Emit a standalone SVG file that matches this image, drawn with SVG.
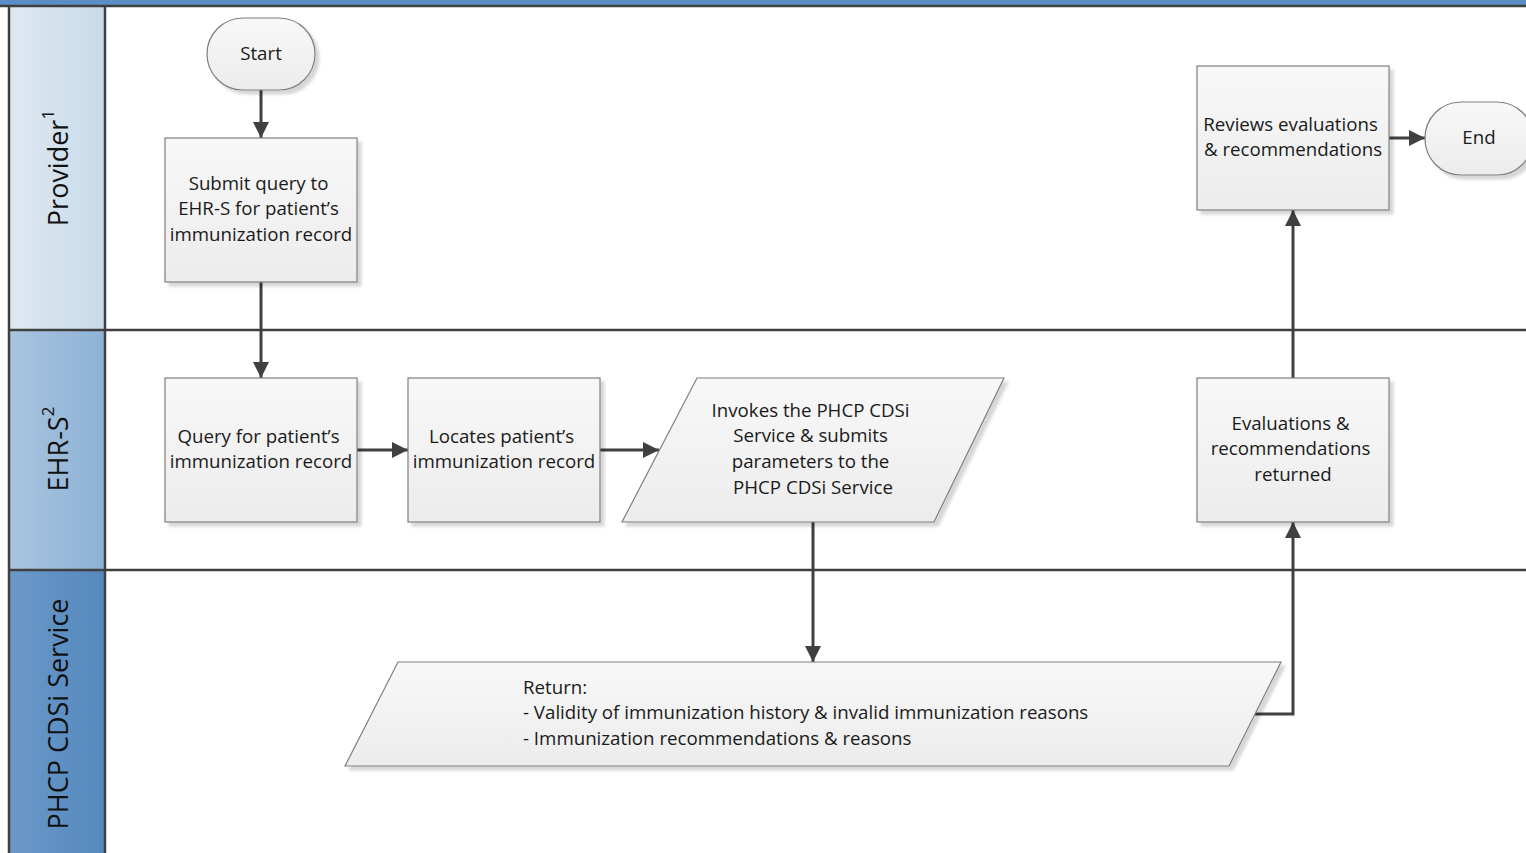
<svg xmlns="http://www.w3.org/2000/svg" width="1526" height="853" viewBox="0 0 1526 853">
  <defs>
    <style>
      .lbl { font-family: "Open Sans", "Liberation Sans", sans-serif; font-size: 18.7px; fill: #1a1a1a; }
      .lane { font-family: "Open Sans", "Liberation Sans", sans-serif; font-size: 27px; fill: #111; }
      .shape { fill: url(#boxFill); stroke: #7f7f7f; stroke-width: 1.2; filter: url(#shadow); }
      .edge { fill: none; stroke: #404040; stroke-width: 3; marker-end: url(#arrow); }
      .border { stroke: #404040; stroke-width: 2.5; fill: none; }
    </style>
    <linearGradient id="boxFill" x1="0" y1="0" x2="0" y2="1">
      <stop offset="0" stop-color="#f8f8f8"/>
      <stop offset="1" stop-color="#ececec"/>
    </linearGradient>
    <linearGradient id="hdrProvider" x1="0" y1="0" x2="1" y2="0">
      <stop offset="0" stop-color="#dfe8f1"/>
      <stop offset="1" stop-color="#c8dbea"/>
    </linearGradient>
    <linearGradient id="hdrEhr" x1="0" y1="0" x2="1" y2="0">
      <stop offset="0" stop-color="#a9c4de"/>
      <stop offset="1" stop-color="#8eb2d6"/>
    </linearGradient>
    <linearGradient id="hdrPhcp" x1="0" y1="0" x2="1" y2="0">
      <stop offset="0" stop-color="#6b99c9"/>
      <stop offset="1" stop-color="#5588bd"/>
    </linearGradient>
    <filter id="shadow" x="-10%" y="-10%" width="130%" height="130%">
      <feDropShadow dx="4" dy="4" stdDeviation="1.5" flood-color="#000" flood-opacity="0.16"/>
    </filter>
    <marker id="arrow" markerUnits="userSpaceOnUse" markerWidth="16" markerHeight="16" viewBox="0 0 16 16" refX="16" refY="8" orient="auto">
      <path d="M0,0 L16,8 L0,16 z" fill="#404040"/>
    </marker>
  </defs>

  <!-- page background -->
  <rect x="0" y="0" width="1526" height="853" fill="#ffffff"/>

  <!-- swimlane frame -->
  <g id="lanes">
    <rect x="0" y="0" width="1526" height="5" fill="#5a8ec4"/>
    <rect x="9" y="6" width="96" height="324" fill="url(#hdrProvider)"/>
    <rect x="9" y="330" width="96" height="240" fill="url(#hdrEhr)"/>
    <rect x="9" y="570" width="96" height="283" fill="url(#hdrPhcp)"/>
    <line class="border" x1="0" y1="6" x2="1526" y2="6"/>
    <line class="border" x1="9" y1="6" x2="9" y2="853"/>
    <line class="border" x1="105" y1="6" x2="105" y2="853"/>
    <line class="border" x1="9" y1="330" x2="1526" y2="330"/>
    <line class="border" x1="9" y1="570" x2="1526" y2="570"/>
    <text class="lane" transform="translate(57,168) rotate(-90)" text-anchor="middle" dominant-baseline="central">Provider<tspan font-size="17" dy="-10">1</tspan></text>
    <text class="lane" transform="translate(57,449) rotate(-90)" text-anchor="middle" dominant-baseline="central">EHR-S<tspan font-size="17" dy="-10">2</tspan></text>
    <text class="lane" transform="translate(57,714) rotate(-90)" text-anchor="middle" dominant-baseline="central">PHCP CDSi Service</text>
  </g>

  <!-- connectors -->
  <g id="connectors">
    <path class="edge" d="M261,90 L261,138"/>
    <path class="edge" d="M261,282 L261,378"/>
    <path class="edge" d="M357,450 L408,450"/>
    <path class="edge" d="M600,450 L659,450"/>
    <path class="edge" d="M813,522 L813,662"/>
    <path class="edge" d="M1255,714 L1293,714 L1293,522"/>
    <path class="edge" d="M1293,378 L1293,210"/>
    <path class="edge" d="M1389,138 L1425,138"/>
  </g>

  <g id="start">
    <rect class="shape" x="207" y="18" width="108" height="72" rx="36" ry="36"/>
    <text class="lbl" x="261" y="60" text-anchor="middle">Start</text>
  </g>

  <g id="submit-query">
    <rect class="shape" x="165" y="138" width="192" height="144"/>
    <text class="lbl" text-anchor="middle">
      <tspan x="261" y="190">Submit query to</tspan>
      <tspan x="261" y="215">EHR-S for patient’s</tspan>
      <tspan x="261" y="241">immunization record</tspan>
    </text>
  </g>

  <g id="query-record">
    <rect class="shape" x="165" y="378" width="192" height="144"/>
    <text class="lbl" text-anchor="middle">
      <tspan x="261" y="443">Query for patient’s</tspan>
      <tspan x="261" y="468">immunization record</tspan>
    </text>
  </g>

  <g id="locate-record">
    <rect class="shape" x="408" y="378" width="192" height="144"/>
    <text class="lbl" text-anchor="middle">
      <tspan x="504" y="443">Locates patient’s</tspan>
      <tspan x="504" y="468">immunization record</tspan>
    </text>
  </g>

  <g id="invoke-service">
    <polygon class="shape" points="697,378 1004,378 934,522 622,522"/>
    <text class="lbl" text-anchor="middle">
      <tspan x="813" y="417">Invokes the PHCP CDSi</tspan>
      <tspan x="813" y="442">Service &amp; submits</tspan>
      <tspan x="813" y="468">parameters to the</tspan>
      <tspan x="813" y="494">PHCP CDSi Service</tspan>
    </text>
  </g>

  <g id="service-return">
    <polygon class="shape" points="398,662 1281,662 1229,766 345,766"/>
    <text class="lbl">
      <tspan x="523" y="694">Return:</tspan>
      <tspan x="523" y="719">- Validity of immunization history &amp; invalid immunization reasons</tspan>
      <tspan x="523" y="745">- Immunization recommendations &amp; reasons</tspan>
    </text>
  </g>

  <g id="results-returned">
    <rect class="shape" x="1197" y="378" width="192" height="144"/>
    <text class="lbl" text-anchor="middle">
      <tspan x="1293" y="430">Evaluations &amp;</tspan>
      <tspan x="1293" y="455">recommendations</tspan>
      <tspan x="1293" y="481">returned</tspan>
    </text>
  </g>

  <g id="review-results">
    <rect class="shape" x="1197" y="66" width="192" height="144"/>
    <text class="lbl" text-anchor="middle">
      <tspan x="1293" y="131">Reviews evaluations</tspan>
      <tspan x="1293" y="156">&amp; recommendations</tspan>
    </text>
  </g>

  <g id="end">
    <rect class="shape" x="1425" y="102" width="108" height="73" rx="36" ry="36"/>
    <text class="lbl" x="1479" y="144" text-anchor="middle">End</text>
  </g>
</svg>
